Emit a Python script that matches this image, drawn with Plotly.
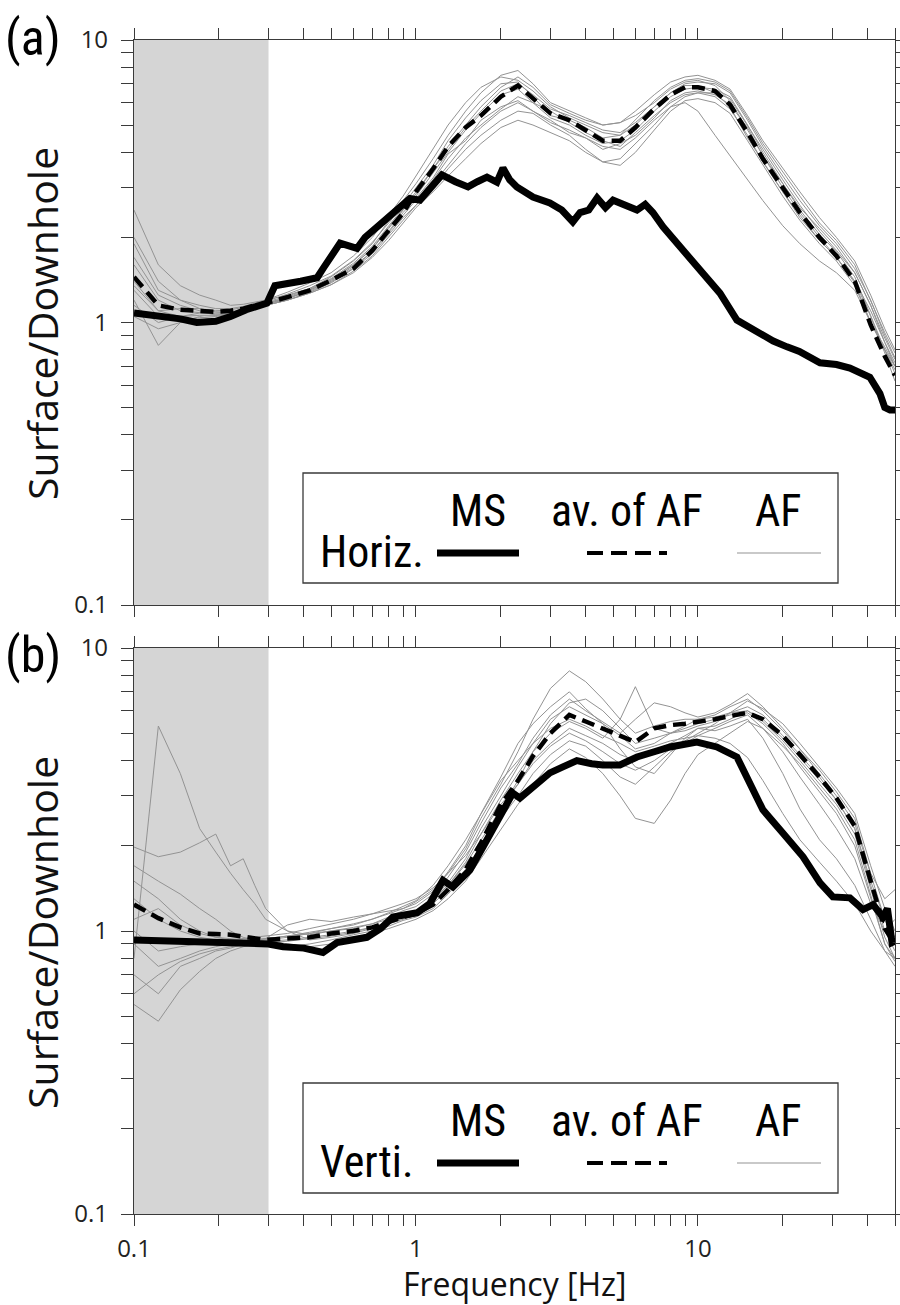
import math
import plotly.graph_objects as go

# ---------------- data ----------------
SHADE_F = [0.1, 0.3]          # excluded low-frequency band
Y_RANGE = [0.1, 10]

F_AF = [0.1, 0.122, 0.146, 0.171, 0.195, 0.22, 0.244, 0.268, 0.293, 0.35, 0.42, 0.5, 0.6, 0.7,
        0.8, 0.9, 1.0, 1.15, 1.3, 1.5, 1.7, 2.0, 2.3, 2.6, 3.0, 3.5, 4.0, 4.6, 5.3, 6.0, 7.0,
        8.0, 9.0, 10, 11.5, 13, 15, 17, 20, 23, 27, 31, 36, 41, 46, 50]

# panel (a) horizontal
AVG_A = [1.45, 1.15, 1.11, 1.10, 1.09, 1.10, 1.12, 1.15, 1.17, 1.23, 1.30, 1.41, 1.55, 1.80, 2.10,
         2.44, 2.9, 3.5, 4.2, 4.9, 5.4, 6.3, 6.9, 6.2, 5.5, 5.2, 4.8, 4.4, 4.4, 4.9, 5.7, 6.4,
         6.8, 6.8, 6.6, 5.9, 4.7, 3.8, 3.0, 2.45, 2.0, 1.72, 1.4, 0.98, 0.76, 0.65]

AF_A = [
    [2.5, 1.6, 1.35, 1.25, 1.2, 1.15, 1.16, 1.18, 1.2, 1.25, 1.32, 1.45, 1.65, 1.9, 2.3, 2.7, 3.1, 3.8,
     4.6, 5.6, 6.5, 7.5, 7.8, 7.0, 6.0, 5.6, 5.3, 5.0, 5.1, 5.6, 6.4, 7.1, 7.4, 7.5, 7.2, 6.7, 5.4,
     4.4, 3.5, 2.9, 2.35, 2.0, 1.65, 1.25, 0.95, 0.8],
    [1.2, 0.83, 1.0, 1.05, 1.02, 1.05, 1.08, 1.12, 1.15, 1.2, 1.28, 1.38, 1.55, 1.75, 2.05, 2.35, 2.6,
     3.0, 3.5, 4.1, 4.6, 5.2, 5.6, 5.5, 5.0, 4.6, 4.1, 3.7, 3.6, 4.0, 4.8, 5.6, 6.1, 6.2, 6.0, 5.5,
     4.4, 3.6, 2.8, 2.3, 1.9, 1.65, 1.35, 1.0, 0.8, 0.7],
    [1.9, 1.3, 1.2, 1.15, 1.12, 1.12, 1.14, 1.17, 1.2, 1.28, 1.38, 1.5, 1.72, 2.0, 2.4, 2.8, 3.3, 4.1,
     5.0, 6.0, 6.8, 7.4, 7.2, 6.6, 5.8, 5.3, 5.0, 4.7, 4.6, 5.0, 5.8, 6.5, 6.9, 6.9, 6.5, 5.8, 4.5,
     3.7, 2.9, 2.4, 1.95, 1.7, 1.4, 1.1, 0.85, 0.72],
    [1.6, 1.2, 1.1, 1.08, 1.07, 1.08, 1.1, 1.13, 1.15, 1.2, 1.27, 1.36, 1.52, 1.72, 2.0, 2.3, 2.6,
     3.1, 3.6, 4.3, 4.9, 5.6, 6.0, 5.6, 5.1, 4.8, 4.5, 4.2, 4.1, 4.5, 5.2, 5.8, 6.0, 5.6, 4.6, 3.9,
     3.2, 2.7, 2.2, 1.9, 1.65, 1.5, 1.3, 1.0, 0.82, 0.7],
    [1.4, 1.1, 1.05, 1.06, 1.06, 1.08, 1.1, 1.13, 1.16, 1.22, 1.3, 1.41, 1.6, 1.82, 2.15, 2.5, 2.8,
     3.4, 4.0, 4.8, 5.5, 6.4, 6.7, 6.0, 5.3, 5.0, 4.6, 4.3, 4.4, 4.8, 5.6, 6.3, 6.7, 6.8, 6.7, 6.3,
     5.0, 4.0, 3.1, 2.5, 2.05, 1.78, 1.45, 1.05, 0.8, 0.68],
    [1.3, 1.05, 1.02, 1.04, 1.05, 1.07, 1.1, 1.14, 1.18, 1.24, 1.32, 1.43, 1.62, 1.86, 2.2, 2.55,
     2.9, 3.5, 4.1, 4.9, 5.6, 6.6, 7.0, 6.4, 5.7, 5.4, 5.1, 4.8, 4.7, 5.1, 5.8, 6.5, 7.0, 7.1, 7.0,
     6.5, 5.2, 4.2, 3.3, 2.7, 2.2, 1.9, 1.55, 1.2, 0.9, 0.75],
    [1.05, 0.95, 1.0, 1.02, 1.03, 1.05, 1.08, 1.12, 1.15, 1.2, 1.27, 1.36, 1.5, 1.7, 1.95, 2.25,
     2.55, 2.9, 3.3, 3.8, 4.3, 4.9, 5.2, 5.0, 4.7, 4.4, 4.0, 3.7, 3.8, 4.3, 5.0, 5.8, 6.3, 6.5, 6.5,
     6.2, 5.0, 4.1, 3.2, 2.6, 2.1, 1.8, 1.5, 1.15, 0.88, 0.74],
    [1.15, 1.0, 1.05, 1.08, 1.08, 1.09, 1.11, 1.14, 1.17, 1.23, 1.31, 1.42, 1.6, 1.83, 2.17, 2.5,
     2.85, 3.5, 4.2, 5.0, 5.8, 6.8, 7.4, 6.8, 5.9, 5.5, 5.2, 5.0, 5.1, 5.4, 6.0, 6.7, 7.1, 7.2, 6.9,
     6.1, 4.8, 3.9, 3.0, 2.45, 2.0, 1.7, 1.4, 1.05, 0.78, 0.62],
    [1.7, 1.25, 1.15, 1.1, 1.06, 1.07, 1.1, 1.12, 1.16, 1.21, 1.3, 1.4, 1.58, 1.78, 2.1, 2.45, 2.75,
     3.25, 3.95, 4.4, 5.2, 5.8, 6.1, 5.6, 5.2, 4.7, 4.5, 4.1, 4.3, 4.6, 5.3, 6.1, 6.5, 6.6, 6.4, 5.9,
     4.9, 3.9, 3.1, 2.55, 2.15, 1.85, 1.5, 1.15, 0.85, 0.7],
    [1.35, 1.1, 1.12, 1.12, 1.1, 1.11, 1.13, 1.15, 1.19, 1.26, 1.35, 1.46, 1.66, 1.92, 2.25, 2.6,
     3.0, 3.6, 4.4, 5.3, 6.1, 7.0, 7.1, 6.3, 5.4, 5.2, 4.9, 4.5, 4.6, 5.2, 6.1, 6.8, 7.2, 7.3, 7.1,
     6.6, 5.3, 4.3, 3.4, 2.8, 2.25, 1.95, 1.6, 1.2, 0.92, 0.78],
    [2.0, 1.4, 1.2, 1.12, 1.09, 1.09, 1.11, 1.14, 1.17, 1.22, 1.29, 1.39, 1.56, 1.78, 2.08, 2.4, 2.7,
     3.2, 3.8, 4.5, 5.0, 5.7, 6.3, 6.0, 5.6, 5.1, 4.7, 4.4, 4.2, 4.7, 5.4, 6.0, 6.4, 6.5, 6.3, 5.7,
     4.6, 3.7, 2.9, 2.35, 1.95, 1.7, 1.38, 1.0, 0.8, 0.66],
]

MS_A_F = [0.1, 0.122, 0.146, 0.167, 0.195, 0.22, 0.25, 0.296, 0.316, 0.39, 0.446, 0.47, 0.538,
          0.618, 0.66, 0.764, 0.877, 0.952, 1.033, 1.14, 1.236, 1.38, 1.53, 1.65, 1.786, 1.937,
          2.035, 2.15, 2.28, 2.6, 2.985, 3.29, 3.6, 3.82, 4.1, 4.39, 4.7, 5.0, 5.5, 6.08, 6.5,
          6.92, 7.52, 8.64, 9.3, 10.4, 11.97, 13.75, 16.2, 18.5, 20.7, 22.9, 27.1, 31, 34.6,
          40.7, 44.2, 46, 48, 50]
MS_A_V = [1.08, 1.06, 1.03, 1.0, 1.01, 1.05, 1.11, 1.17, 1.35, 1.40, 1.44, 1.56, 1.91, 1.83, 2.0,
          2.27, 2.56, 2.75, 2.71, 3.06, 3.33, 3.15, 3.02, 3.15, 3.27, 3.14, 3.52, 3.2, 3.02, 2.78,
          2.65, 2.5, 2.27, 2.45, 2.5, 2.76, 2.55, 2.71, 2.6, 2.5, 2.62, 2.45, 2.18, 1.85, 1.72,
          1.5, 1.27, 1.02, 0.92, 0.86, 0.82, 0.79, 0.72, 0.71, 0.69, 0.64, 0.56, 0.5, 0.49, 0.49]

# panel (b) vertical
AVG_B = [1.24, 1.11, 1.03, 0.98, 0.975, 0.97, 0.955, 0.94, 0.93, 0.94, 0.95, 0.98, 1.0, 1.03, 1.08,
         1.12, 1.15, 1.24, 1.40, 1.65, 2.05, 2.8, 3.4, 4.15, 5.0, 5.8, 5.5, 5.2, 4.93, 4.65, 5.2,
         5.34, 5.4, 5.47, 5.6, 5.75, 5.9, 5.6, 4.9, 4.2, 3.5, 2.95, 2.35, 1.5, 1.02, 0.9]

AF_B = [
    [0.8, 5.3, 3.6, 2.3, 1.9, 1.6, 1.4, 1.25, 1.1, 1.0, 0.97, 1.0, 1.02, 1.06, 1.12, 1.18, 1.22, 1.35,
     1.55, 1.9, 2.4, 3.2, 3.9, 4.8, 5.8, 6.6, 6.0, 5.5, 5.0, 5.6, 6.4, 6.2, 5.9, 5.7, 5.9, 6.3, 6.9,
     6.2, 5.2, 4.4, 3.6, 3.0, 2.4, 1.6, 1.1, 0.9],
    [1.98, 1.83, 1.9, 2.05, 2.2, 1.7, 1.8, 1.45, 1.2, 1.0, 0.93, 0.95, 0.98, 1.02, 1.06, 1.1, 1.14,
     1.25, 1.4, 1.65, 2.0, 2.7, 3.4, 4.3, 5.4, 6.4, 6.6, 6.0, 5.2, 4.6, 4.8, 5.0, 5.1, 5.3, 5.5, 5.9,
     6.2, 5.8, 4.9, 4.2, 3.5, 2.9, 2.3, 1.45, 1.0, 0.85],
    [1.5, 1.3, 1.1, 1.0, 0.95, 0.93, 0.92, 0.92, 0.93, 0.95, 0.98, 1.02, 1.05, 1.1, 1.15, 1.2, 1.27,
     1.4, 1.6, 1.95, 2.5, 3.3, 4.3, 5.6, 7.2, 8.3, 7.6, 6.6, 5.6, 5.0, 5.3, 5.5, 5.6, 5.6, 5.7, 5.9,
     6.0, 5.5, 4.7, 4.0, 3.3, 2.8, 2.2, 1.4, 0.95, 0.8],
    [0.7, 0.6, 0.75, 0.8, 0.85, 0.87, 0.9, 0.92, 0.93, 0.9, 0.88, 0.9, 0.95, 0.98, 1.02, 1.06, 1.1,
     1.18, 1.3, 1.5, 1.8, 2.3, 2.8, 3.3, 3.9, 4.4, 4.1, 3.6, 3.0, 2.5, 2.4, 2.9, 3.6, 4.2, 4.6, 5.0,
     5.5, 5.2, 4.5, 3.9, 3.2, 2.7, 2.1, 1.35, 0.9, 0.78],
    [0.55, 0.48, 0.62, 0.72, 0.8, 0.85, 0.88, 0.9, 0.92, 0.93, 0.95, 0.97, 1.0, 1.03, 1.08, 1.12,
     1.18, 1.3, 1.45, 1.75, 2.2, 2.9, 3.6, 4.3, 5.0, 5.5, 5.2, 4.8, 5.6, 7.3, 5.2, 5.0, 5.2, 5.4, 5.6,
     5.8, 5.9, 5.4, 4.6, 3.8, 3.1, 2.6, 2.0, 1.3, 0.9, 0.8],
    [1.3, 1.1, 1.0, 0.95, 0.93, 0.92, 0.92, 0.93, 0.94, 0.96, 0.99, 1.02, 1.06, 1.1, 1.16, 1.22,
     1.28, 1.45, 1.7, 2.1, 2.6, 3.4, 4.0, 4.6, 5.2, 5.6, 5.3, 4.9, 4.6, 4.3, 4.5, 4.7, 4.8, 4.9, 4.8,
     4.6, 4.1, 3.4, 2.6, 2.1, 1.75, 1.5, 1.25, 1.0, 0.85, 0.8],
    [1.0, 0.85, 0.88, 0.9, 0.92, 0.93, 0.94, 0.95, 0.96, 0.98, 1.02, 1.06, 1.1, 1.15, 1.2, 1.25, 1.3,
     1.42, 1.6, 1.85, 2.2, 2.8, 3.3, 3.9, 4.5, 5.0, 4.7, 4.3, 3.9, 3.7, 4.0, 4.4, 4.7, 5.0, 5.4, 5.9,
     6.5, 6.1, 5.4, 4.6, 3.8, 3.2, 2.6, 1.7, 1.2, 1.0],
    [1.1, 1.2, 1.05, 0.98, 0.95, 0.94, 0.93, 0.93, 0.94, 0.96, 0.98, 1.0, 1.03, 1.06, 1.1, 1.14,
     1.18, 1.3, 1.48, 1.8, 2.3, 3.0, 3.8, 4.6, 5.6, 6.2, 5.8, 5.4, 4.9, 4.4, 4.6, 5.0, 5.3, 5.6, 5.8,
     6.2, 6.6, 6.0, 5.1, 4.4, 3.7, 3.1, 2.5, 1.6, 1.3, 1.4],
    [0.9, 0.75, 0.8, 0.85, 0.88, 0.9, 0.91, 0.92, 0.94, 1.05, 1.1, 1.08, 1.12, 1.15, 1.17, 1.2, 1.25,
     1.38, 1.62, 2.0, 2.6, 3.5, 4.6, 5.4, 6.2, 7.0, 6.1, 5.4, 4.4, 3.8, 3.6, 4.2, 4.8, 5.2, 5.1, 5.3,
     5.6, 4.8, 3.6, 2.7, 2.1, 1.8, 1.45, 1.1, 0.85, 0.75],
    [1.7, 1.5, 1.35, 1.2, 1.1, 1.0, 0.95, 0.92, 0.9, 0.88, 0.9, 0.93, 0.97, 1.0, 1.04, 1.09, 1.12,
     1.2, 1.35, 1.6, 1.95, 2.5, 3.0, 3.6, 4.2, 4.7, 4.5, 4.0, 3.5, 3.3, 3.8, 4.3, 4.6, 4.9, 5.2, 5.5,
     5.8, 5.2, 4.3, 3.5, 2.8, 2.3, 1.8, 1.25, 1.0, 1.1],
    [0.6, 0.7, 0.78, 0.83, 0.86, 0.88, 0.89, 0.9, 0.91, 0.92, 0.94, 0.96, 0.99, 1.03, 1.07, 1.12,
     1.17, 1.28, 1.45, 1.72, 2.1, 2.7, 3.3, 4.0, 4.6, 5.2, 4.9, 4.6, 4.2, 4.0, 4.3, 4.6, 4.9, 5.2,
     5.3, 5.6, 6.0, 5.6, 4.8, 4.1, 3.4, 2.9, 2.3, 1.5, 1.1, 0.95],
]

MS_B_F = [0.1, 0.15, 0.2, 0.258, 0.3, 0.338, 0.4, 0.468, 0.525, 0.67, 0.75, 0.828, 1.01, 1.12,
          1.247, 1.352, 1.553, 1.728, 1.937, 2.206, 2.337, 2.6, 2.985, 3.32, 3.72, 4.2, 4.6, 5.29,
          6.08, 7.0, 7.96, 9.91, 11.67, 13.75, 14.9, 17.0, 20.0, 23.6, 27.1, 30.1, 34.6, 38.5,
          41.8, 45.3, 47, 48.8, 50]
MS_B_V = [0.93, 0.92, 0.91, 0.91, 0.9, 0.88, 0.87, 0.84, 0.91, 0.95, 1.02, 1.12, 1.16, 1.25, 1.51,
          1.43, 1.64, 1.98, 2.41, 3.07, 2.95, 3.23, 3.62, 3.8, 4.0, 3.9, 3.86, 3.86, 4.12, 4.3,
          4.47, 4.65, 4.47, 4.12, 3.5, 2.68, 2.22, 1.83, 1.48, 1.32, 1.31, 1.19, 1.24, 1.12, 1.2,
          0.91, 0.92]

X_TICKS = [0.1, 0.2, 0.3, 0.4, 0.5, 0.6, 0.7, 0.8, 0.9, 1, 2, 3, 4, 5, 6, 7, 8, 9, 10, 20, 30, 40, 50]
X_LABELS = {0.1: "0.1", 1: "1", 10: "10"}
Y_TICKS = [0.1, 0.2, 0.3, 0.4, 0.5, 0.6, 0.7, 0.8, 0.9, 1, 2, 3, 4, 5, 6, 7, 8, 9, 10]
Y_LABELS = {0.1: "0.1", 1: "1", 10: "10"}

# ---------------- layout helpers ----------------
W, H = 900, 1305
L, R, T, B = 134, 5, 40, 91
PW, PH = W - L - R, H - T - B


def px(x):
    return (x - L) / PW


def py(y):
    return (H - B - y) / PH


NARROW = "Liberation Sans Narrow, Arial Narrow, Roboto Condensed, Roboto, sans-serif"
MAIN = "Open Sans, Noto Sans, sans-serif"
GRAY = "#939393"
AX = "#3a3a3a"

fig = go.Figure()

panels = [("x", "y", AF_A, AVG_A, MS_A_F, MS_A_V),
          ("x2", "y2", AF_B, AVG_B, MS_B_F, MS_B_V)]
for xa, ya, af, avg, msf, msv in panels:
    fig.add_trace(go.Scatter(x=[SHADE_F[0], SHADE_F[1], SHADE_F[1], SHADE_F[0]],
                             y=[Y_RANGE[0], Y_RANGE[0], Y_RANGE[1], Y_RANGE[1]],
                             fill="toself", fillcolor="#d5d5d5", mode="lines",
                             line=dict(width=0), xaxis=xa, yaxis=ya, hoverinfo="skip"))
    for curve in af:
        fig.add_trace(go.Scatter(x=F_AF, y=curve, mode="lines",
                                 line=dict(color=GRAY, width=1), xaxis=xa, yaxis=ya))
    fig.add_trace(go.Scatter(x=F_AF, y=avg, mode="lines",
                             line=dict(color="black", width=4.5, dash="13px,7px"),
                             xaxis=xa, yaxis=ya))
    fig.add_trace(go.Scatter(x=msf, y=msv, mode="lines",
                             line=dict(color="black", width=7), xaxis=xa, yaxis=ya))


def xaxis_cfg(labels):
    return dict(type="log", range=[math.log10(0.1), math.log10(50)],
                tickvals=X_TICKS,
                ticktext=[(X_LABELS.get(v, "") if labels else "") for v in X_TICKS],
                ticks="outside", ticklen=11, tickwidth=1, tickcolor=AX,
                showline=True, linecolor=AX, linewidth=1.2, mirror="ticks",
                showgrid=False, zeroline=False,
                tickfont=dict(family=MAIN, size=24, color="#222"),
                ticklabelstandoff=2)


def yaxis_cfg(domain, anchor):
    return dict(type="log", range=[-1, 1], domain=domain, anchor=anchor,
                tickvals=Y_TICKS, ticktext=[Y_LABELS.get(v, "") for v in Y_TICKS],
                ticks="outside", ticklen=12, tickwidth=1, tickcolor=AX,
                showline=True, linecolor=AX, linewidth=1.2, mirror="ticks",
                showgrid=False, zeroline=False,
                tickfont=dict(family=MAIN, size=24, color="#222"),
                ticklabelstandoff=8)


shapes = []
annotations = []
LEG_FONT = 44
for name, box_top in (("Horiz.", 473), ("Verti.", 1083)):
    shapes.append(dict(type="rect", xref="paper", yref="paper",
                       x0=px(303), x1=px(838), y0=py(box_top + 110), y1=py(box_top),
                       line=dict(color=AX, width=1.3), fillcolor="white", layer="above"))
    ly = py(box_top + 80)
    shapes.append(dict(type="line", xref="paper", yref="paper", x0=px(437), x1=px(519),
                       y0=ly, y1=ly, line=dict(color="black", width=7)))
    shapes.append(dict(type="line", xref="paper", yref="paper", x0=px(587), x1=px(667),
                       y0=ly, y1=ly, line=dict(color="black", width=4, dash="16px,8px")))
    shapes.append(dict(type="line", xref="paper", yref="paper", x0=px(737), x1=px(821),
                       y0=ly, y1=ly, line=dict(color=GRAY, width=1)))
    annotations.append(dict(text=name, xref="paper", yref="paper", x=px(318), y=py(box_top + 79),
                            xanchor="left", yanchor="middle", showarrow=False,
                            font=dict(family=NARROW, size=LEG_FONT, color="black")))
    for txt, cx in (("MS", 478), ("av. of AF", 627), ("AF", 778)):
        annotations.append(dict(text=txt, xref="paper", yref="paper", x=px(cx),
                                y=py(box_top + 38), xanchor="center", yanchor="middle",
                                showarrow=False,
                                font=dict(family=NARROW, size=LEG_FONT, color="black")))

for lab, cy in (("(a)", 38), ("(b)", 655)):
    annotations.append(dict(text=lab, xref="paper", yref="paper", x=px(33), y=py(cy),
                            xanchor="center", yanchor="middle", showarrow=False,
                            font=dict(family=NARROW, size=50, color="black")))
for cy in (324, 933):
    annotations.append(dict(text="Surface/Downhole", xref="paper", yref="paper", x=px(42),
                            y=py(cy), xanchor="center", yanchor="middle", textangle=-90,
                            showarrow=False, font=dict(family=MAIN, size=41, color="#111")))
annotations.append(dict(text="Frequency [Hz]", xref="paper", yref="paper", x=px(515),
                        y=py(1283), xanchor="center", yanchor="middle", showarrow=False,
                        font=dict(family=MAIN, size=32, color="#111")))

fig.update_layout(
    width=W, height=H, template="none", showlegend=False,
    margin=dict(l=L, r=R, t=T, b=B),
    paper_bgcolor="white", plot_bgcolor="white",
    xaxis=dict(xaxis_cfg(False), anchor="y", domain=[0, 1]),
    yaxis=yaxis_cfg([py(605), 1], "x"),
    xaxis2=dict(xaxis_cfg(True), anchor="y2", domain=[0, 1]),
    yaxis2=yaxis_cfg([0, py(648)], "x2"),
    shapes=shapes, annotations=annotations,
)

fig.write_html("out.html", config={"displayModeBar": False},
               post_script="document.body.style.margin='0px';")
